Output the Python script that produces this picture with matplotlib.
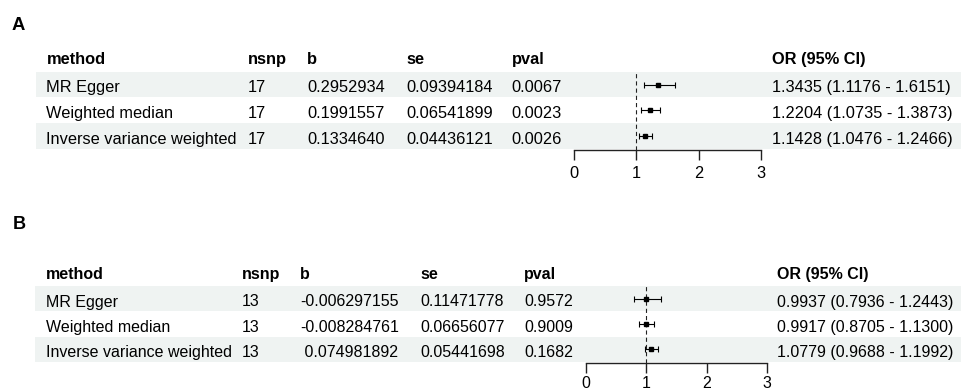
import matplotlib
matplotlib.use("Agg")
import matplotlib.pyplot as plt

plt.rcParams["font.family"] = ["Liberation Sans", "DejaVu Sans"]
plt.rcParams["lines.scale_dashes"] = False

# ---- data -------------------------------------------------------------
methods = ["MR Egger", "Weighted median", "Inverse variance weighted"]
headers = ["method", "nsnp", "b", "se", "pval", "OR (95% CI)"]

nsnp_a = ["17", "17", "17"]
b_a = ["0.2952934", "0.1991557", "0.1334640"]
se_a = ["0.09394184", "0.06541899", "0.04436121"]
pval_a = ["0.0067", "0.0023", "0.0026"]
or_a = [1.3435, 1.2204, 1.1428]
lo_a = [1.1176, 1.0735, 1.0476]
hi_a = [1.6151, 1.3873, 1.2466]

nsnp_b = ["13", "13", "13"]
b_b = ["-0.006297155", "-0.008284761", " 0.074981892"]
se_b = ["0.11471778", "0.06656077", "0.05441698"]
pval_b = ["0.9572", "0.9009", "0.1682"]
or_b = [0.9937, 0.9917, 1.0779]
lo_b = [0.7936, 0.8705, 0.9688]
hi_b = [1.2443, 1.1300, 1.1992]

xticks = [0, 1, 2, 3]

# ---- figure -----------------------------------------------------------
W, H = 961, 391
fig = plt.figure(figsize=(W / 100, H / 100), dpi=100)
canvas = fig.add_axes([0, 0, 1, 1])
canvas.set_xlim(0, W)
canvas.set_ylim(H, 0)
canvas.axis("off")

BAND = "#eff3f2"


def panel(tag, tag_xy, header_base, row_top, row_h, band_x, col_x, fs,
          fx0, fx3, axis_y, tick_pad, nsnp, b, se, pval, orv, lo, hi):
    canvas.text(tag_xy[0], tag_xy[1], tag, fontsize=fs * 1.13,
                fontweight="bold", va="baseline", ha="left")
    # header
    for x, h in zip(col_x, headers):
        canvas.text(x, header_base, h, fontsize=fs, fontweight="bold",
                    va="baseline", ha="left")
    # rows
    n = len(methods)
    for i in range(n):
        top = row_top + i * row_h
        if i % 2 == 0:
            canvas.fill_between([band_x[0], band_x[1]], top, top + row_h,
                                color=BAND, lw=0, zorder=0)
        base = top + row_h / 2 + 7.8
        ci = f"{orv[i]:.4f} ({lo[i]:.4f} - {hi[i]:.4f})"
        cells = [methods[i], nsnp[i], b[i], se[i], pval[i], ci]
        for x, c in zip(col_x, cells):
            canvas.text(x, base, c, fontsize=fs, va="baseline", ha="left")

    # forest axes aligned with the rows
    ybot = (axis_y - row_top) / row_h - 0.5
    ax = fig.add_axes([fx0 / W, 1 - axis_y / H, (fx3 - fx0) / W,
                       (axis_y - row_top) / H])
    ax.patch.set_alpha(0)
    ax.set_xlim(xticks[0], xticks[-1])
    ax.set_ylim(ybot, -0.5)
    for s in ("top", "left", "right"):
        ax.spines[s].set_visible(False)
    ax.spines["bottom"].set_linewidth(1.0)
    ax.spines["bottom"].set_color("#222222")
    ax.set_yticks([])
    ax.set_xticks(xticks)
    ax.set_xticklabels([str(t) for t in xticks])
    ax.tick_params(axis="x", direction="out", length=7.2, width=1.0,
                   pad=tick_pad, labelsize=fs, color="#222222")
    ax.axvline(1, color="#222222", lw=0.8, ls=(0, (3.0, 2.2)), zorder=1)
    ys = list(range(n))
    xerr = [[o - l for o, l in zip(orv, lo)], [h - o for o, h in zip(orv, hi)]]
    ax.errorbar(orv, ys, xerr=xerr, fmt="s", color="black", ms=3.2,
                elinewidth=0.8, capsize=2.5, capthick=0.8, zorder=3,
                clip_on=False)


panel("A", (12, 29.5), 64.3, 71.7, 25.6, (36, W),
      [46.5, 247.5, 307.3, 406, 511.7, 772], 11.8,
      574, 761, 150, 4.6, nsnp_a, b_a, se_a, pval_a, or_a, lo_a, hi_a)

panel("B", (12.5, 229.3), 278.7, 286, 25.4, (35, W),
      [46, 241.7, 300, 420, 524, 776.7], 11.55,
      586, 767.3, 363.3, 2.2, nsnp_b, b_b, se_b, pval_b, or_b, lo_b, hi_b)

fig.savefig("out.png", dpi=100)
